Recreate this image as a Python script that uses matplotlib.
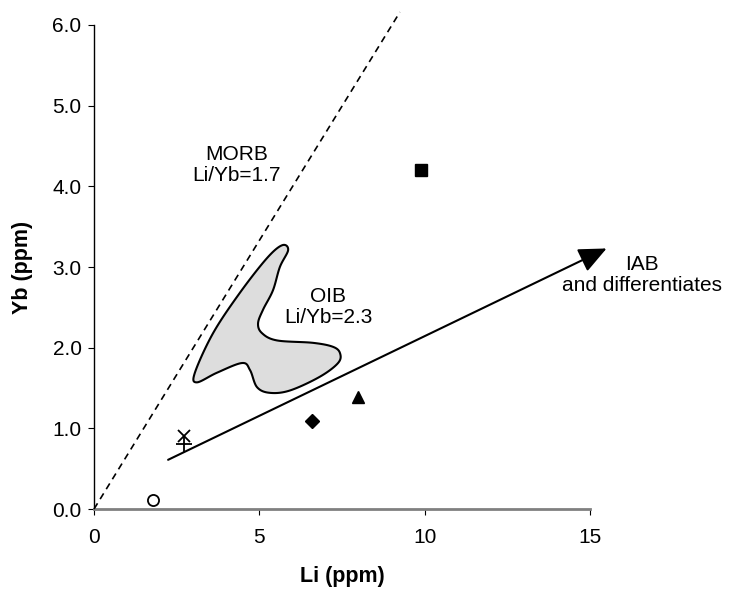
import numpy as np
import matplotlib
matplotlib.use("Agg")
import matplotlib.pyplot as plt

plt.rcParams['font.family'] = ['Liberation Sans', 'DejaVu Sans']

# sample points (Li, Yb)
circle_pt = [1.78, 0.11]
cross_pt = [2.72, 0.90]
plus_pt = [2.72, 0.81]
diamond_pt = [6.59, 1.09]
triangle_pt = [7.99, 1.39]
square_pt = [9.89, 4.20]

# MORB dashed reference line
morb_li = [0.0, 9.25]
morb_yb = [0.0, 6.16]

# IAB trend arrow
iab_start = [2.24, 0.61]
iab_end = [15.5, 3.23]

# OIB field outline
oib_li = [5.69, 5.23, 4.41, 3.60, 3.05, 3.11, 3.72, 4.48, 4.72, 4.93, 5.32, 5.93,
          6.83, 7.38, 7.44, 7.23, 6.62, 5.53, 5.08, 4.96, 5.11, 5.41, 5.62, 5.87]
oib_yb = [3.27, 3.11, 2.68, 2.18, 1.69, 1.57, 1.69, 1.81, 1.72, 1.51, 1.44, 1.47,
          1.64, 1.81, 1.93, 2.01, 2.06, 2.09, 2.18, 2.30, 2.47, 2.71, 3.00, 3.21]

x_ticks = [0, 5, 10, 15]
y_ticks = [0, 1, 2, 3, 4, 5, 6]


def smooth_closed(xs, ys, n=12):
    """Catmull-Rom smoothing of a closed outline."""
    p = np.column_stack([xs, ys])
    m = len(p)
    out = []
    t = np.linspace(0, 1, n, endpoint=False)[:, None]
    for i in range(m):
        p0, p1, p2, p3 = p[i - 1], p[i], p[(i + 1) % m], p[(i + 2) % m]
        seg = 0.5 * ((2 * p1) + (-p0 + p2) * t + (2 * p0 - 5 * p1 + 4 * p2 - p3) * t ** 2
                     + (-p0 + 3 * p1 - 3 * p2 + p3) * t ** 3)
        out.append(seg)
    out = np.vstack(out)
    return out[:, 0], out[:, 1]


fig = plt.figure(figsize=(7.3, 5.98), dpi=100)
ax = fig.add_axes([0.1288, 0.1488, 0.6795, 0.8094])

ax.set_xlim(0, 15)
ax.set_ylim(0, 6)

# OIB field
sx, sy = smooth_closed(oib_li, oib_yb)
ax.fill(sx, sy, facecolor='#dddddd', edgecolor='black', linewidth=1.5, zorder=2)

# MORB line
ax.plot(morb_li, morb_yb, color='black', linestyle=(0, (4, 3)), linewidth=1.2,
        clip_on=False, zorder=3)

# IAB arrow
ax.annotate('', xy=iab_end, xytext=iab_start, annotation_clip=False,
            arrowprops=dict(arrowstyle='-|>,head_length=0.85,head_width=0.38',
                            mutation_scale=20, color='black', linewidth=1.5,
                            shrinkA=0, shrinkB=0), zorder=3)

# samples
ax.plot(*circle_pt, marker='o', markersize=8, markerfacecolor='white',
        markeredgecolor='black', markeredgewidth=1.3, zorder=4)
ax.plot(*plus_pt, marker='+', markersize=11, color='black', markeredgewidth=1.3, zorder=4)
ax.plot(*cross_pt, marker='x', markersize=9, color='black', markeredgewidth=1.3, zorder=4)
ax.plot(*diamond_pt, marker='D', markersize=7, color='black', zorder=4)
ax.plot(*triangle_pt, marker='^', markersize=9, color='black', zorder=4)
ax.plot(*square_pt, marker='s', markersize=8, color='black', zorder=4)

# labels
fs = 15
ax.text(4.32, 4.26, 'MORB\nLi/Yb=1.7', ha='center', va='center', fontsize=fs,
        linespacing=1.15)
ax.text(7.08, 2.50, 'OIB\nLi/Yb=2.3', ha='center', va='center', fontsize=fs,
        linespacing=1.15)
ax.text(16.57, 2.90, 'IAB\nand differentiates', ha='center', va='center', fontsize=fs,
        linespacing=1.15, clip_on=False)

# axes styling
for side in ['top', 'right']:
    ax.spines[side].set_visible(False)
ax.spines['left'].set_color('black')
ax.spines['bottom'].set_color('#808080')
ax.spines['bottom'].set_linewidth(2)
ax.spines['left'].set_linewidth(1)

ax.set_xticks(x_ticks)
ax.set_yticks(y_ticks)
ax.set_yticklabels([f'{v:.1f}' for v in y_ticks])
ax.tick_params(axis='both', direction='out', length=4, labelsize=fs)
ax.tick_params(axis='x', color='black', pad=10)
ax.tick_params(axis='y', pad=5)

ax.set_xlabel('Li (ppm)', fontsize=15.5, fontweight='bold', labelpad=13)
ax.set_ylabel('Yb (ppm)', fontsize=15.5, fontweight='bold', labelpad=14)

fig.savefig('out.png', dpi=100)
